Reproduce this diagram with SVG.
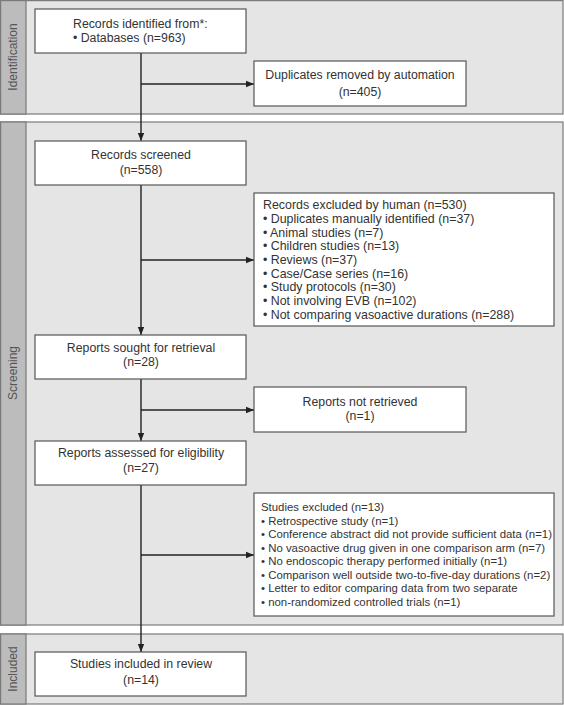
<svg xmlns="http://www.w3.org/2000/svg" width="564" height="705" viewBox="0 0 564 705">
<defs>
<style>
.band{fill:#e5e5e6;stroke:#7a7a7a;stroke-width:1.2}
.strip{fill:#bcbcbd;stroke:#7a7a7a;stroke-width:1.2}
.box{fill:#ffffff;stroke:#555555;stroke-width:1.2}
text{font-family:"Liberation Sans",Arial,sans-serif;font-size:12.3px;fill:#333333}
.c{text-anchor:middle}
.lbl{fill:#555555;text-anchor:middle;font-size:12px}
.l1{font-size:12.4px}
.l2{font-size:11.4px}
.ln{stroke:#222222;stroke-width:1.4;fill:none}
</style>
<marker id="ah" viewBox="0 0 10 10" refX="10" refY="5" markerWidth="8" markerHeight="8" markerUnits="userSpaceOnUse" orient="auto">
<path d="M0,1 L10,5 L0,9 Z" fill="#222222"/>
</marker>
</defs>
<rect width="564" height="705" fill="#ffffff"/>
<g id="band-identification">
<rect class="band" x="0.6" y="0.6" width="562.4" height="113.4"/>
<rect class="strip" x="0.6" y="0.6" width="25.4" height="113.4"/>
<text class="lbl" transform="translate(17,57) rotate(-90)">Identification</text>
</g>
<g id="band-screening">
<rect class="band" x="0.6" y="122" width="562.4" height="503"/>
<rect class="strip" x="0.6" y="122" width="25.4" height="503"/>
<text class="lbl" transform="translate(17,373) rotate(-90)">Screening</text>
</g>
<g id="band-included">
<rect class="band" x="0.6" y="634" width="562.4" height="70"/>
<rect class="strip" x="0.6" y="634" width="25.4" height="70"/>
<text class="lbl" transform="translate(17,669) rotate(-90)">Included</text>
</g>
<g id="connectors">
<line class="ln" x1="141" y1="53" x2="141" y2="141" marker-end="url(#ah)"/>
<line class="ln" x1="141" y1="84" x2="254" y2="84" marker-end="url(#ah)"/>
<line class="ln" x1="141" y1="185" x2="141" y2="335" marker-end="url(#ah)"/>
<line class="ln" x1="141" y1="260" x2="254" y2="260" marker-end="url(#ah)"/>
<line class="ln" x1="141" y1="379" x2="141" y2="441" marker-end="url(#ah)"/>
<line class="ln" x1="141" y1="410" x2="254" y2="410" marker-end="url(#ah)"/>
<line class="ln" x1="141" y1="485" x2="141" y2="652" marker-end="url(#ah)"/>
<line class="ln" x1="141" y1="555" x2="254" y2="555" marker-end="url(#ah)"/>
</g>
<g id="records-identified">
<rect class="box" x="35" y="9" width="211" height="44"/>
<text x="73" y="28">Records identified from*:</text>
<text x="73" y="42">• Databases (n=963)</text>
</g>
<g id="duplicates-removed">
<rect class="box" x="254" y="61" width="212" height="45"/>
<text class="c" x="360" y="79">Duplicates removed by automation</text>
<text class="c" x="360" y="96">(n=405)</text>
</g>
<g id="records-screened">
<rect class="box" x="35" y="141" width="211" height="44"/>
<text class="c" x="141" y="159">Records screened</text>
<text class="c" x="141" y="174">(n=558)</text>
</g>
<g id="records-excluded">
<rect class="box" x="254" y="193" width="300" height="133"/>
<text class="l1" x="263" y="209">Records excluded by human (n=530)</text>
<text class="l1" x="263" y="223">• Duplicates manually identified (n=37)</text>
<text class="l1" x="263" y="236.5">• Animal studies (n=7)</text>
<text class="l1" x="263" y="250">• Children studies (n=13)</text>
<text class="l1" x="263" y="264">• Reviews (n=37)</text>
<text class="l1" x="263" y="277.5">• Case/Case series (n=16)</text>
<text class="l1" x="263" y="291">• Study protocols (n=30)</text>
<text class="l1" x="263" y="305">• Not involving EVB (n=102)</text>
<text class="l1" x="263" y="318.5">• Not comparing vasoactive durations (n=288)</text>
</g>
<g id="reports-sought">
<rect class="box" x="35" y="335" width="211" height="44"/>
<text class="c" x="141" y="352">Reports sought for retrieval</text>
<text class="c" x="141" y="366">(n=28)</text>
</g>
<g id="reports-not-retrieved">
<rect class="box" x="254" y="387" width="212" height="45"/>
<text class="c" x="360" y="406">Reports not retrieved</text>
<text class="c" x="360" y="420">(n=1)</text>
</g>
<g id="reports-assessed">
<rect class="box" x="35" y="441" width="211" height="44"/>
<text class="c" x="141" y="457">Reports assessed for eligibility</text>
<text class="c" x="141" y="472">(n=27)</text>
</g>
<g id="studies-excluded">
<rect class="box" x="254" y="493" width="300" height="123"/>
<text class="l2" x="261" y="511">Studies excluded (n=13)</text>
<text class="l2" x="261" y="524.5">• Retrospective study (n=1)</text>
<text class="l2" x="261" y="538">• Conference abstract did not provide sufficient data (n=1)</text>
<text class="l2" x="261" y="551.5">• No vasoactive drug given in one comparison arm (n=7)</text>
<text class="l2" x="261" y="565">• No endoscopic therapy performed initially (n=1)</text>
<text class="l2" x="261" y="578.5">• Comparison well outside two-to-five-day durations (n=2)</text>
<text class="l2" x="261" y="592">• Letter to editor comparing data from two separate</text>
<text class="l2" x="261" y="605.5">• non-randomized controlled trials (n=1)</text>
</g>
<g id="studies-included">
<rect class="box" x="35" y="652" width="211" height="44"/>
<text class="c" x="141" y="668">Studies included in review</text>
<text class="c" x="141" y="684">(n=14)</text>
</g>
</svg>
